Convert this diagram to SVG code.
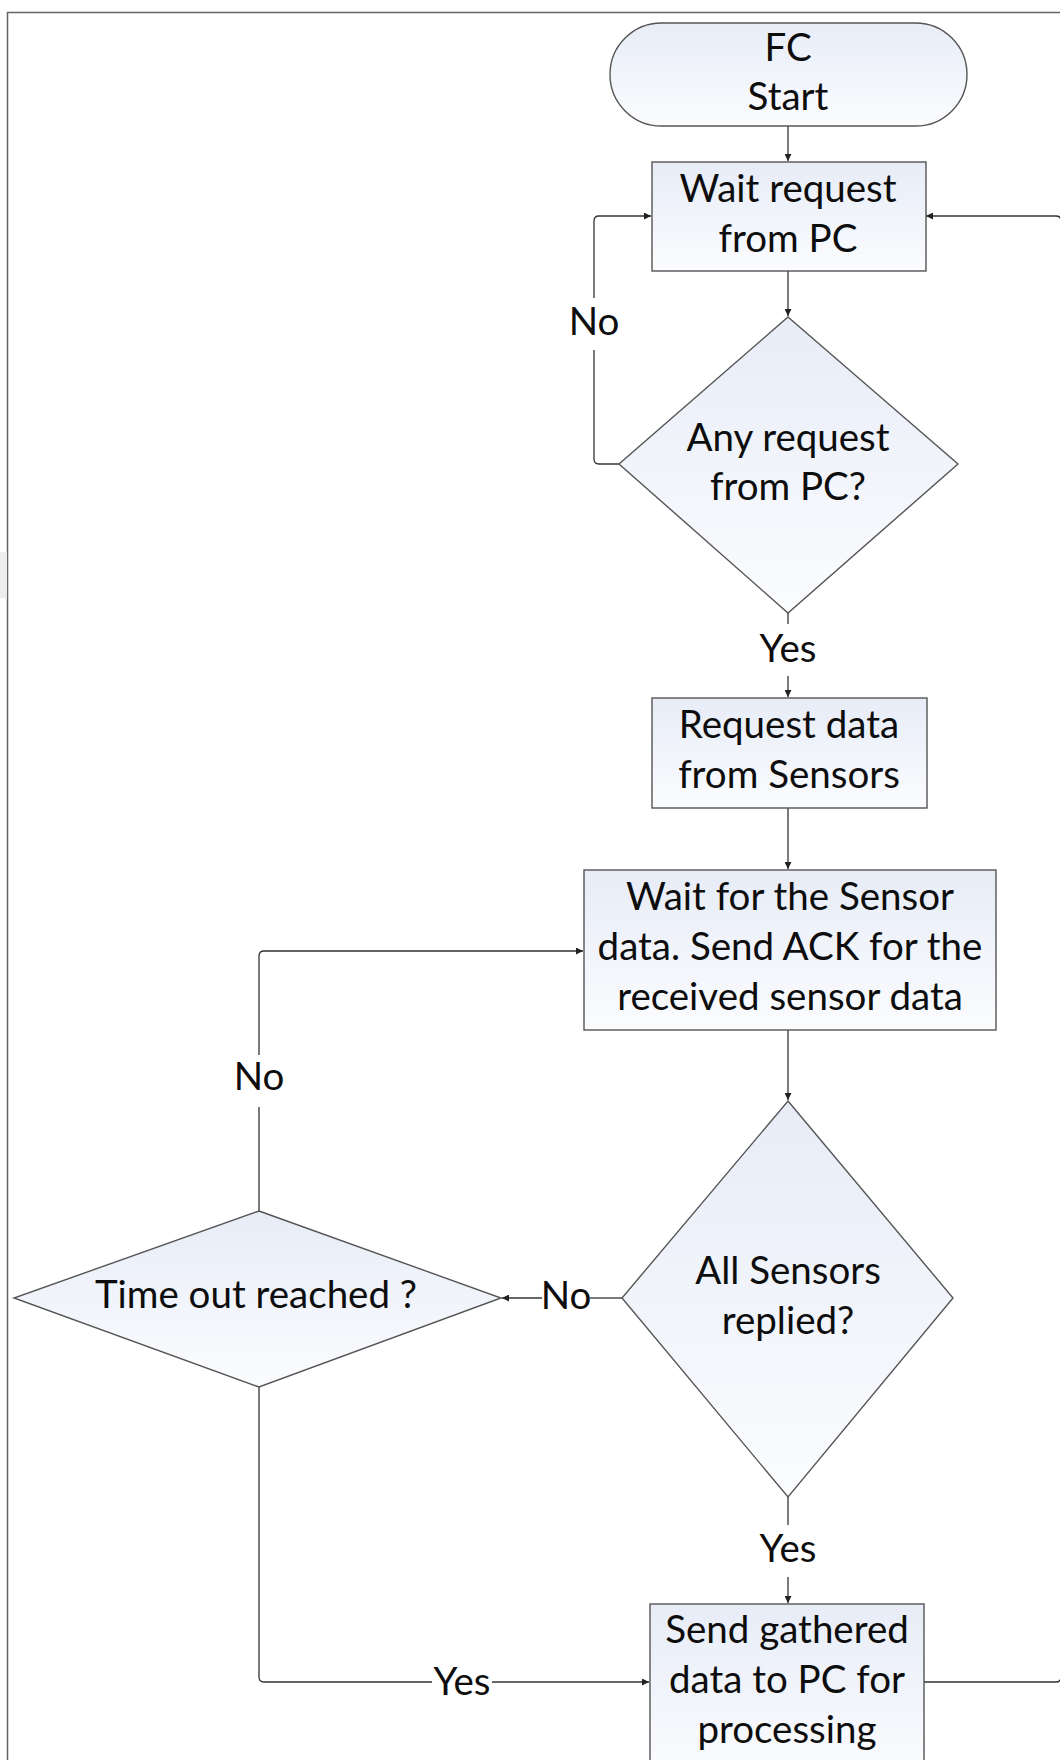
<svg xmlns="http://www.w3.org/2000/svg" width="1060" height="1760" viewBox="0 0 1060 1760">
  <defs>
    <linearGradient id="nodeFill" x1="0" y1="0" x2="0" y2="1">
      <stop offset="0" stop-color="#e7ecf7"/>
      <stop offset="1" stop-color="#fbfcfe"/>
    </linearGradient>
    <marker id="arrow" viewBox="0 0 10 10" refX="10" refY="5" markerWidth="7" markerHeight="7" markerUnits="userSpaceOnUse" orient="auto">
      <path d="M0,0 L10,5 L0,10 z" fill="#222"/>
    </marker>
    <style>
      .node { fill: url(#nodeFill); stroke: #555; stroke-width: 1.4; }
      .conn { fill: none; stroke: #333; stroke-width: 1.3; }
      .txt { font-family: Lato, "Liberation Sans", sans-serif; font-size: 38.5px; fill: #0d0d0d; text-anchor: middle; }
    </style>
  </defs>

  <rect width="1060" height="1760" fill="#ffffff"/>
  <!-- page frame -->
  <path d="M7.5,1760 V12.5 H1060" fill="none" stroke="#666" stroke-width="1.5"/>
  <rect x="0" y="552" width="7" height="46" fill="#ededed"/>

  <g id="connectors">
    <path class="conn" d="M788,126 V161" marker-end="url(#arrow)"/>
    <path class="conn" d="M788,271 V316" marker-end="url(#arrow)"/>
    <path class="conn" d="M619,464 H599 Q594,464 594,459 V350"/>
    <path class="conn" d="M594,298 V221 Q594,216 599,216 H651" marker-end="url(#arrow)"/>
    <path class="conn" d="M924,1682 H1056 Q1061,1682 1061,1677 V221 Q1061,216 1056,216 H926" marker-end="url(#arrow)"/>
    <path class="conn" d="M788,613 V624"/>
    <path class="conn" d="M788,676 V697" marker-end="url(#arrow)"/>
    <path class="conn" d="M788,808 V869" marker-end="url(#arrow)"/>
    <path class="conn" d="M788,1030 V1100" marker-end="url(#arrow)"/>
    <path class="conn" d="M622,1298 H590"/>
    <path class="conn" d="M542,1298 H502" marker-end="url(#arrow)"/>
    <path class="conn" d="M259,1211 V1107"/>
    <path class="conn" d="M259,1055 V956 Q259,951 264,951 H583" marker-end="url(#arrow)"/>
    <path class="conn" d="M259,1387 V1677 Q259,1682 264,1682 H432"/>
    <path class="conn" d="M492,1682 H649" marker-end="url(#arrow)"/>
    <path class="conn" d="M788,1497 V1525"/>
    <path class="conn" d="M788,1577 V1603" marker-end="url(#arrow)"/>

    <text class="txt" x="594" y="335">No</text>
    <text class="txt" x="788" y="662">Yes</text>
    <text class="txt" x="259" y="1090">No</text>
    <text class="txt" x="566" y="1309">No</text>
    <text class="txt" x="788" y="1562">Yes</text>
    <text class="txt" x="462" y="1695">Yes</text>
  </g>

  <g id="start">
    <rect class="node" x="610" y="23" width="357" height="103" rx="51.5" ry="51.5"/>
    <text class="txt" x="788" y="61">FC</text>
    <text class="txt" x="788" y="110">Start</text>
  </g>

  <g id="wait-request">
    <rect class="node" x="652" y="162" width="274" height="109"/>
    <text class="txt" x="788" y="202">Wait request</text>
    <text class="txt" x="788" y="252">from PC</text>
  </g>

  <g id="any-request">
    <polygon class="node" points="788,317 958,464 788,613 619,464"/>
    <text class="txt" x="788" y="451">Any request</text>
    <text class="txt" x="788" y="500">from PC?</text>
  </g>

  <g id="request-data">
    <rect class="node" x="652" y="698" width="275" height="110"/>
    <text class="txt" x="789" y="738">Request data</text>
    <text class="txt" x="789" y="788">from Sensors</text>
  </g>

  <g id="wait-sensor">
    <rect class="node" x="584" y="870" width="412" height="160"/>
    <text class="txt" x="790" y="910">Wait for the Sensor</text>
    <text class="txt" x="790" y="960">data. Send ACK for the</text>
    <text class="txt" x="790" y="1010">received sensor data</text>
  </g>

  <g id="all-replied">
    <polygon class="node" points="788,1101 953,1298 788,1497 622,1298"/>
    <text class="txt" x="788" y="1284">All Sensors</text>
    <text class="txt" x="788" y="1334">replied?</text>
  </g>

  <g id="time-out">
    <polygon class="node" points="259,1211 501,1298 259,1387 14,1298"/>
    <text class="txt" x="256" y="1308">Time out reached ?</text>
  </g>

  <g id="send-data">
    <rect class="node" x="650" y="1604" width="274" height="170"/>
    <text class="txt" x="787" y="1643">Send gathered</text>
    <text class="txt" x="787" y="1693">data to PC for</text>
    <text class="txt" x="787" y="1743">processing</text>
  </g>
</svg>
